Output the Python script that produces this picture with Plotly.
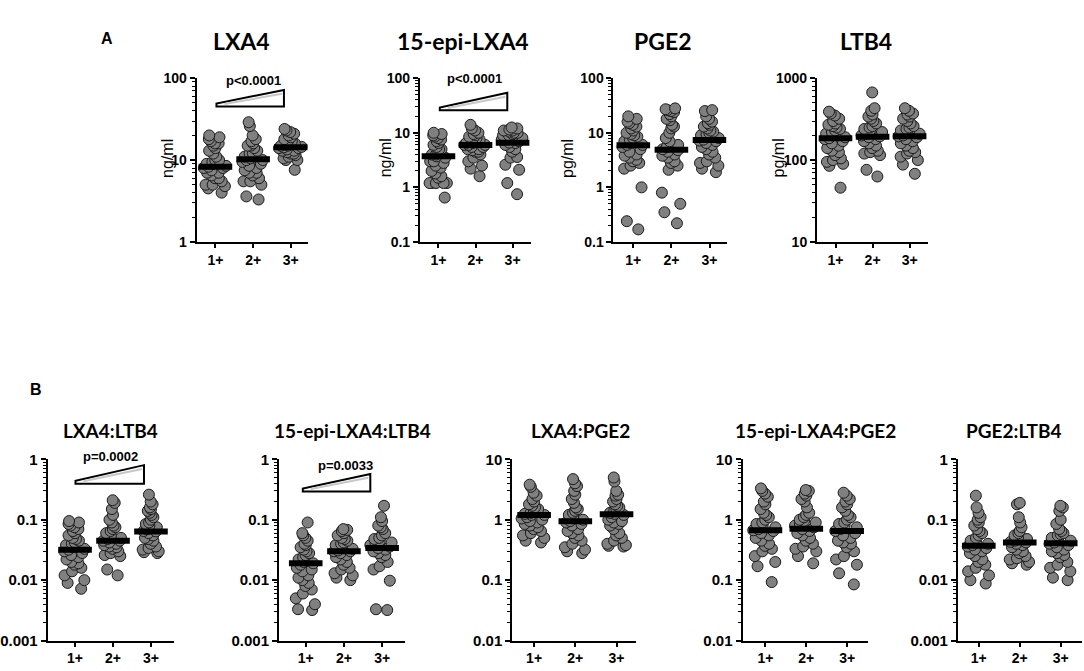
import math
import plotly.graph_objects as go

# groups on the x axis
groups = ['1+', '2+', '3+']

# ---- panel A: concentrations ----
lxa4_g1 = [20, 19, 18, 17, 16, 16, 15, 14, 13, 12, 11, 10, 10, 9.5, 9, 9, 8.5, 8.3,
           8, 8, 7.5, 7, 7, 6.5, 6, 6, 5.5, 5, 5, 4.8, 4.5, 4]
lxa4_g2 = [29, 26, 20, 18, 17, 16, 15, 15, 14, 13, 12, 12, 11, 10.5, 10, 10, 9.5, 9,
           8.5, 8, 7.5, 7, 7, 6.5, 6, 5.5, 5.5, 5, 3.6, 3.3]
lxa4_g3 = [24, 23, 22, 21, 20, 19, 18, 17.5, 17, 16, 16, 15.5, 15, 15, 14.5, 14.3, 14,
           14, 13.5, 13, 13, 12.5, 12, 12, 11.5, 11, 10.5, 10, 10, 7.6]
lxa4_med = [8.3, 10.2, 14.3]

epi_g1 = [10, 9.5, 9, 8.5, 8, 7.5, 7, 6.5, 6, 5.5, 5, 5, 4.5, 4, 4, 3.7, 3.5, 3, 3,
          2.8, 2.5, 2.3, 2, 1.8, 1.6, 1.5, 1.2, 1.2, 1.2, 1.2, 1.2, 0.65]
epi_g2 = [14, 12, 11, 10, 9.5, 9, 8.5, 8, 8, 7.5, 7, 7, 6.5, 6.5, 6, 6, 6, 5.5, 5.5,
          5, 5, 4.8, 4.5, 4.5, 4, 3.5, 3, 2.5, 2.2, 1.6]
epi_g3 = [12.5, 12, 11.5, 11, 11, 10.5, 10, 10, 9.5, 9, 9, 8.5, 8, 8, 7.5, 7, 6.6,
          6.5, 6, 5.5, 5, 4.5, 3.6, 3.5, 2.6, 2.1, 1.2, 0.75]
epi_med = [3.7, 6.0, 6.6]

pge2_g1 = [20, 18, 16, 15, 14, 13, 12, 11, 10, 9.5, 9, 8.5, 8, 7.5, 7, 6.5, 6, 6, 5.5,
           5, 4.5, 4, 3.8, 3.5, 3.2, 3, 2.8, 2.5, 2.2, 1.0, 0.24, 0.17]
pge2_g2 = [28, 27, 26, 25, 24, 22, 20, 18, 17, 14, 13, 12, 10, 8, 7, 6, 5.5, 5, 4.8,
           4.5, 4, 3.8, 3.5, 3, 2.8, 2.5, 2.1, 0.8, 0.5, 0.35, 0.22]
pge2_g3 = [26, 25, 20, 18, 16, 15, 14, 13, 12, 11, 10.5, 10, 9.5, 9, 8.5, 8, 7.5, 7.2,
           7, 6.5, 6, 5.5, 5, 4.5, 4, 3.5, 3, 2.8, 2.5, 2.2, 1.9]
pge2_med = [5.9, 4.9, 7.4]

ltb4_g1 = [390, 370, 350, 320, 300, 280, 270, 260, 250, 240, 230, 220, 210, 200, 190,
           185, 180, 170, 160, 150, 140, 130, 125, 115, 105, 100, 95, 90, 85, 46]
ltb4_g2 = [670, 430, 400, 360, 340, 320, 300, 280, 260, 250, 240, 230, 220, 210, 200,
           195, 190, 180, 170, 160, 150, 140, 130, 125, 120, 115, 76, 63]
ltb4_g3 = [430, 400, 370, 360, 340, 320, 300, 280, 260, 250, 240, 230, 220, 210, 200,
           195, 190, 180, 170, 160, 150, 140, 130, 125, 120, 110, 100, 88, 68]
ltb4_med = [185, 193, 195]

# ---- panel B: ratios ----
lxa4_ltb4_g1 = [0.095, 0.09, 0.085, 0.08, 0.075, 0.07, 0.065, 0.06, 0.055, 0.05, 0.048,
                0.045, 0.042, 0.04, 0.038, 0.035, 0.033, 0.032, 0.03, 0.028, 0.026,
                0.024, 0.022, 0.02, 0.019, 0.018, 0.016, 0.014, 0.012, 0.010, 0.009, 0.0072]
lxa4_ltb4_g2 = [0.21, 0.19, 0.15, 0.12, 0.1, 0.09, 0.08, 0.075, 0.07, 0.065, 0.06, 0.055,
                0.05, 0.048, 0.045, 0.045, 0.042, 0.04, 0.038, 0.036, 0.035, 0.033,
                0.03, 0.028, 0.026, 0.025, 0.015, 0.012]
lxa4_ltb4_g3 = [0.26, 0.2, 0.18, 0.16, 0.15, 0.14, 0.13, 0.12, 0.11, 0.1, 0.09, 0.085,
                0.08, 0.075, 0.07, 0.065, 0.064, 0.06, 0.055, 0.05, 0.048, 0.045, 0.04,
                0.036, 0.034, 0.032, 0.03, 0.029, 0.028]
lxa4_ltb4_med = [0.032, 0.045, 0.064]

epi_ltb4_g1 = [0.09, 0.06, 0.055, 0.05, 0.045, 0.04, 0.038, 0.035, 0.032, 0.03, 0.028,
               0.026, 0.024, 0.022, 0.02, 0.019, 0.018, 0.016, 0.015, 0.014, 0.012,
               0.011, 0.01, 0.009, 0.008, 0.007, 0.006, 0.005, 0.004, 0.0033, 0.0032]
epi_ltb4_g2 = [0.07, 0.068, 0.065, 0.06, 0.055, 0.05, 0.048, 0.045, 0.042, 0.04, 0.038,
               0.035, 0.033, 0.031, 0.03, 0.03, 0.028, 0.026, 0.024, 0.022, 0.02,
               0.018, 0.016, 0.015, 0.013, 0.012, 0.011, 0.01]
epi_ltb4_g3 = [0.17, 0.11, 0.095, 0.08, 0.075, 0.07, 0.06, 0.055, 0.05, 0.048, 0.045,
               0.042, 0.04, 0.038, 0.036, 0.034, 0.032, 0.03, 0.028, 0.026, 0.024,
               0.02, 0.017, 0.015, 0.0098, 0.0033, 0.0032]
epi_ltb4_med = [0.019, 0.030, 0.034]

lxa4_pge2_g1 = [3.8, 3.5, 2.8, 2.5, 2.2, 2.0, 1.8, 1.7, 1.6, 1.5, 1.4, 1.3, 1.25, 1.2,
                1.2, 1.1, 1.05, 1.0, 0.95, 0.9, 0.85, 0.8, 0.75, 0.7, 0.65, 0.6, 0.55,
                0.5, 0.45, 0.42]
lxa4_pge2_g2 = [4.7, 4.0, 3.6, 3.0, 2.6, 2.2, 1.9, 1.6, 1.5, 1.4, 1.3, 1.2, 1.1, 1.0,
                0.95, 0.9, 0.85, 0.8, 0.7, 0.65, 0.6, 0.55, 0.5, 0.45, 0.4, 0.35, 0.32,
                0.3, 0.28]
lxa4_pge2_g3 = [5.0, 4.3, 3.0, 2.6, 2.5, 2.2, 2.0, 1.8, 1.7, 1.6, 1.5, 1.4, 1.3, 1.25,
                1.2, 1.1, 1.0, 0.95, 0.9, 0.85, 0.8, 0.7, 0.6, 0.55, 0.5, 0.45, 0.4,
                0.38, 0.37, 0.36]
lxa4_pge2_med = [1.2, 0.94, 1.23]

epi_pge2_g1 = [3.3, 3.0, 2.7, 2.4, 2.0, 1.8, 1.5, 1.3, 1.2, 1.1, 1.0, 0.9, 0.85, 0.8,
               0.75, 0.7, 0.67, 0.65, 0.6, 0.55, 0.5, 0.45, 0.4, 0.37, 0.33, 0.3, 0.25,
               0.2, 0.17, 0.093]
epi_pge2_g2 = [3.1, 3.0, 2.7, 2.5, 2.2, 2.0, 1.6, 1.3, 1.2, 1.1, 1.0, 0.95, 0.9, 0.85,
               0.8, 0.75, 0.7, 0.65, 0.6, 0.55, 0.5, 0.45, 0.4, 0.36, 0.33, 0.3, 0.25, 0.19]
epi_pge2_g3 = [2.8, 2.5, 2.2, 2.0, 1.8, 1.6, 1.4, 1.2, 1.1, 1.0, 0.9, 0.85, 0.8, 0.75,
               0.7, 0.65, 0.6, 0.55, 0.5, 0.45, 0.42, 0.4, 0.35, 0.3, 0.25, 0.22, 0.18,
               0.13, 0.085]
epi_pge2_med = [0.67, 0.71, 0.65]

pge2_ltb4_g1 = [0.25, 0.16, 0.13, 0.11, 0.1, 0.09, 0.08, 0.07, 0.065, 0.06, 0.055, 0.05,
                0.045, 0.042, 0.04, 0.038, 0.036, 0.034, 0.032, 0.03, 0.028, 0.025,
                0.022, 0.02, 0.018, 0.016, 0.014, 0.012, 0.01, 0.0088]
pge2_ltb4_g2 = [0.19, 0.18, 0.11, 0.09, 0.075, 0.065, 0.06, 0.055, 0.05, 0.048, 0.045,
                0.043, 0.042, 0.04, 0.038, 0.035, 0.032, 0.03, 0.028, 0.025, 0.023,
                0.022, 0.02, 0.019, 0.018]
pge2_ltb4_g3 = [0.17, 0.16, 0.14, 0.1, 0.085, 0.07, 0.065, 0.06, 0.058, 0.055, 0.05,
                0.048, 0.045, 0.042, 0.04, 0.038, 0.035, 0.032, 0.03, 0.028, 0.026,
                0.024, 0.02, 0.018, 0.016, 0.014, 0.011, 0.01]
pge2_ltb4_med = [0.037, 0.042, 0.041]

# y tick labels
ticks_1_100 = [1, 10, 100]
labels_1_100 = ['1', '10', '100']
ticks_01_100 = [0.1, 1, 10, 100]
labels_01_100 = ['0.1', '1', '10', '100']
ticks_10_1000 = [10, 100, 1000]
labels_10_1000 = ['10', '100', '1000']
ticks_0001_1 = [0.001, 0.01, 0.1, 1]
labels_0001_1 = ['0.001', '0.01', '0.1', '1']
ticks_001_10 = [0.01, 0.1, 1, 10]
labels_001_10 = ['0.01', '0.1', '1', '10']

panels = [
    dict(title='LXA4', data=[lxa4_g1, lxa4_g2, lxa4_g3], med=lxa4_med,
         tv=ticks_1_100, tt=labels_1_100, ylab='ng/ml', p='p<0.0001'),
    dict(title='15-epi-LXA4', data=[epi_g1, epi_g2, epi_g3], med=epi_med,
         tv=ticks_01_100, tt=labels_01_100, ylab='ng/ml', p='p<0.0001'),
    dict(title='PGE2', data=[pge2_g1, pge2_g2, pge2_g3], med=pge2_med,
         tv=ticks_01_100, tt=labels_01_100, ylab='pg/ml', p=None),
    dict(title='LTB4', data=[ltb4_g1, ltb4_g2, ltb4_g3], med=ltb4_med,
         tv=ticks_10_1000, tt=labels_10_1000, ylab='pg/ml', p=None),
    dict(title='LXA4:LTB4', data=[lxa4_ltb4_g1, lxa4_ltb4_g2, lxa4_ltb4_g3],
         med=lxa4_ltb4_med, tv=ticks_0001_1, tt=labels_0001_1, ylab=None, p='p=0.0002'),
    dict(title='15-epi-LXA4:LTB4', data=[epi_ltb4_g1, epi_ltb4_g2, epi_ltb4_g3],
         med=epi_ltb4_med, tv=ticks_0001_1, tt=labels_0001_1, ylab=None, p='p=0.0033'),
    dict(title='LXA4:PGE2', data=[lxa4_pge2_g1, lxa4_pge2_g2, lxa4_pge2_g3],
         med=lxa4_pge2_med, tv=ticks_001_10, tt=labels_001_10, ylab=None, p=None),
    dict(title='15-epi-LXA4:PGE2', data=[epi_pge2_g1, epi_pge2_g2, epi_pge2_g3],
         med=epi_pge2_med, tv=ticks_001_10, tt=labels_001_10, ylab=None, p=None),
    dict(title='PGE2:LTB4', data=[pge2_ltb4_g1, pge2_ltb4_g2, pge2_ltb4_g3],
         med=pge2_ltb4_med, tv=ticks_0001_1, tt=labels_0001_1, ylab=None, p=None),
]

# geometry in pixels: plot area x0/x1, top/bottom, x range,
# title centre, y label x, p-value centre, wedge (left, right, bottom, left top, right top)
W, H = 1084, 671
geo = [
    dict(x=(190, 302), y=(71, 239), xr=(-0.5, 2.45), t=(235, 33), yl=160,
         pv=(247, 73), wedge=(210, 278, 100, 97, 83)),
    dict(x=(415, 527), y=(71, 239), xr=(-0.5, 2.5), t=(458, 33), yl=380,
         pv=(470, 71), wedge=(435, 503, 104, 101, 86)),
    dict(x=(610, 724), y=(71, 239), xr=(-0.52, 2.45), t=(660, 33), yl=563),
    dict(x=(815, 927), y=(71, 239), xr=(-0.5, 2.5), t=(864, 33), yl=776),
    dict(x=(40, 167), y=(462, 648), xr=(-0.72, 2.6), t=(103, 432),
         pv=(103, 459), wedge=(68, 137, 487, 484, 468)),
    dict(x=(273, 400), y=(462, 648), xr=(-0.7, 2.6), t=(347, 432),
         pv=(340, 468), wedge=(297, 365, 495, 492, 477)),
    dict(x=(508, 633), y=(462, 648), xr=(-0.53, 2.48), t=(577, 432)),
    dict(x=(740, 866), y=(462, 648), xr=(-0.56, 2.5), t=(813, 432)),
    dict(x=(957, 1082), y=(462, 648), xr=(-0.51, 2.52), t=(1013, 432)),
]


def fx(px):
    return px / W


def fy(py):
    return 1 - py / H


fig = go.Figure()
annotations = []
shapes = []

for i, (p, g) in enumerate(zip(panels, geo)):
    n = i + 1
    sfx = '' if n == 1 else str(n)
    xa, ya = 'x' + sfx, 'y' + sfx
    for k, vals in enumerate(p['data']):
        fig.add_trace(go.Box(
            x=[k] * len(vals), y=vals, xaxis=xa, yaxis=ya,
            boxpoints='all', jitter=0.9, pointpos=0, width=0.72,
            fillcolor='rgba(0,0,0,0)', line=dict(width=0, color='rgba(0,0,0,0)'),
            marker=dict(size=11, color='#808080', line=dict(color='#1a1a1a', width=1)),
            showlegend=False))
    fig.add_trace(go.Scatter(
        x=list(range(len(groups))), y=p['med'], xaxis=xa, yaxis=ya, mode='markers',
        marker=dict(symbol='line-ew', size=24, line=dict(width=6, color='black')),
        showlegend=False))

    lo = round(math.log10(p['tv'][0]))
    hi = round(math.log10(p['tv'][-1]))
    minor_vals = [m * 10 ** e for e in range(lo, hi) for m in range(2, 10)]
    big = n <= 4
    xfont = dict(family='Liberation Sans', size=14, color='black', weight='bold')
    yfont = dict(family='Liberation Sans', size=14 if big else 15, color='black',
                 weight='bold')

    fig.layout['xaxis' + sfx] = dict(
        domain=[fx(g['x'][0]), fx(g['x'][1])], range=list(g['xr']), anchor=ya,
        tickmode='array', tickvals=list(range(len(groups))), ticktext=groups,
        showline=True, linewidth=2, linecolor='black', ticks='outside', ticklen=4,
        tickwidth=2, tickcolor='black', showgrid=False, zeroline=False,
        tickfont=xfont, fixedrange=True)
    fig.layout['yaxis' + sfx] = dict(
        type='log', domain=[fy(g['y'][1]), fy(g['y'][0])], range=[lo, hi], anchor=xa,
        tickmode='array', tickvals=p['tv'], ticktext=p['tt'],
        showline=True, linewidth=2, linecolor='black', ticks='outside', ticklen=5,
        tickwidth=2, tickcolor='black', showgrid=False, zeroline=False,
        tickfont=yfont, ticklabelstandoff=0,
        minor=dict(tickmode='array', tickvals=minor_vals, ticks='outside', ticklen=3,
                   tickwidth=1, tickcolor='black', showgrid=False))

    annotations.append(dict(
        x=fx(g['t'][0]), y=fy(g['t'][1]), xref='paper', yref='paper',
        text='<b>%s</b>' % p['title'], showarrow=False,
        font=dict(family='Lato', size=23 if big else 19, color='black'),
        xanchor='center', yanchor='middle'))
    if p['ylab']:
        annotations.append(dict(
            x=fx(g['yl']), y=fy(153), xref='paper', yref='paper', text=p['ylab'],
            textangle=-90, showarrow=False,
            font=dict(family='Liberation Sans', size=16, color='black'),
            xanchor='center', yanchor='middle'))
    if p['p']:
        annotations.append(dict(
            x=fx(g['pv'][0]), y=fy(g['pv'][1]), xref='paper', yref='paper',
            text='<b>%s</b>' % p['p'].replace('<', '&lt;'), showarrow=False,
            font=dict(family='Liberation Sans', size=13, color='black'),
            xanchor='center', yanchor='middle'))
        l, r, b, lt, rt = g['wedge']
        shapes.append(dict(
            type='path', xref='paper', yref='paper',
            path='M %f,%f L %f,%f L %f,%f L %f,%f Z' % (
                fx(l), fy(b), fx(l), fy(lt), fx(r), fy(rt), fx(r), fy(b)),
            fillcolor='white', line=dict(color='black', width=2)))
        shapes.append(dict(
            type='line', xref='paper', yref='paper',
            x0=fx(l + 8), y0=fy(b - 2.5), x1=fx(r - 2), y1=fy(rt + 4),
            line=dict(color='#c8c8c8', width=2)))

for letter, (lx, ly) in [('A', (100, 30)), ('B', (28, 390))]:
    annotations.append(dict(
        x=fx(lx), y=fy(ly), xref='paper', yref='paper', text='<b>%s</b>' % letter,
        showarrow=False, xanchor='center', yanchor='middle',
        font=dict(family='Liberation Sans', size=16, color='black')))

fig.update_layout(
    width=W, height=H, margin=dict(l=0, r=0, t=0, b=0),
    plot_bgcolor='white', paper_bgcolor='white', showlegend=False,
    boxmode='overlay', annotations=annotations, shapes=shapes)

# drop the default page margin so the figure fills the window exactly
fig.write_html('out.html', config={'displayModeBar': False},
               post_script="document.body.style.margin='0';"
                           "document.body.style.overflow='hidden';")
